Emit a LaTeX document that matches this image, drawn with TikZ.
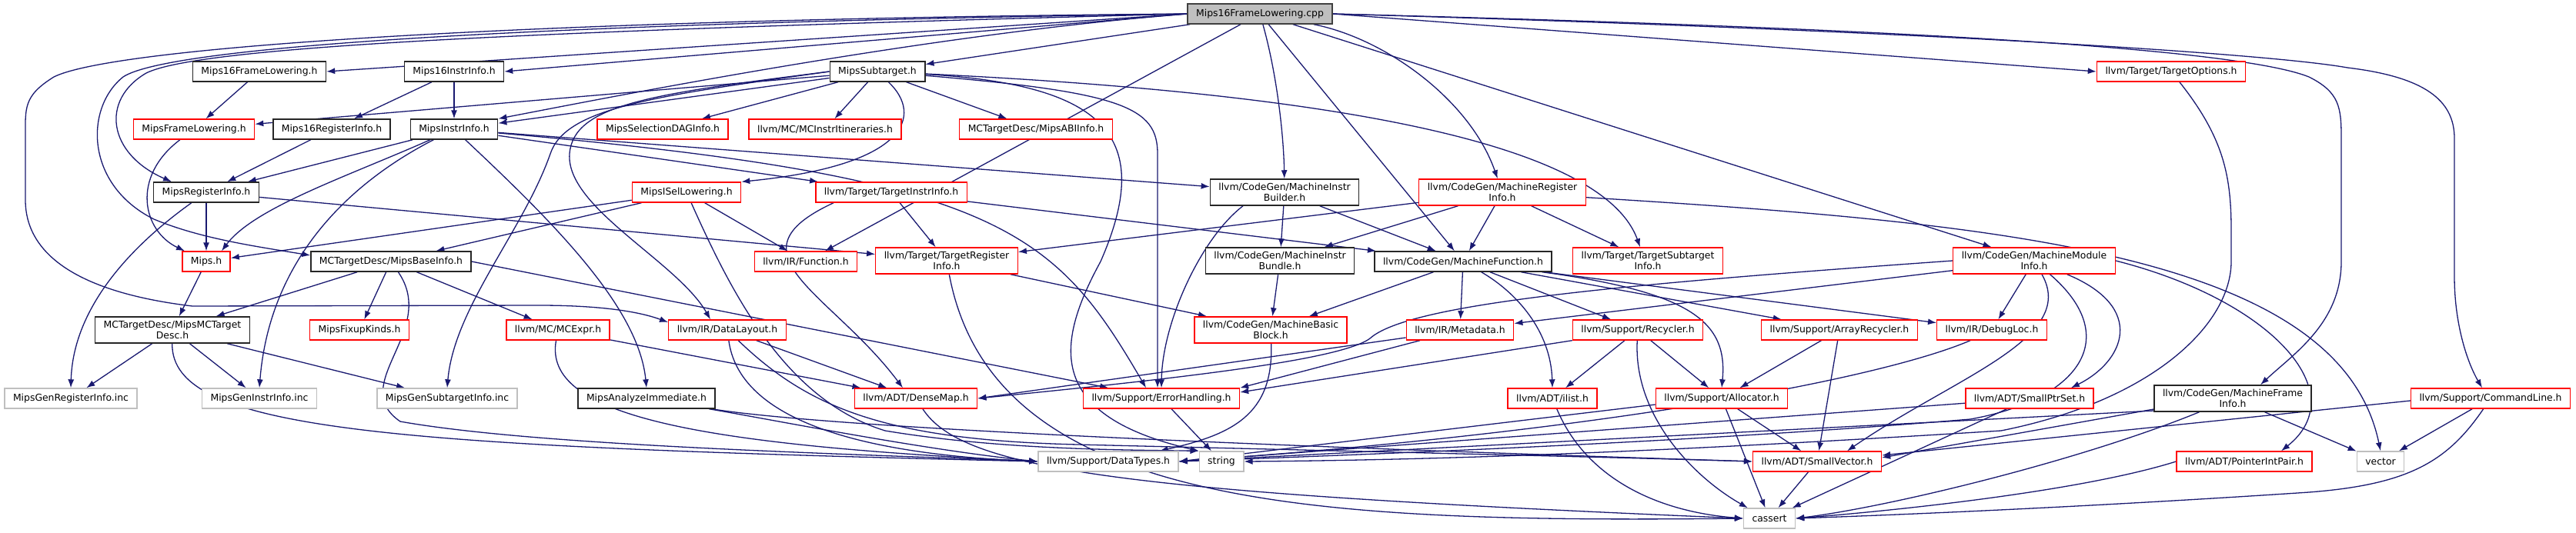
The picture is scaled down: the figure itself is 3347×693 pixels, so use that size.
\documentclass[tikz,border=0pt]{standalone}
\usepackage{fontspec}
\setmainfont{DejaVu Sans}
\usepackage{xcolor}
\usepackage{tikz}
\usetikzlibrary{arrows.meta,backgrounds}
\definecolor{edgeblue}{HTML}{191970}
\newcommand{\graphfont}{\fontsize{12.4bp}{14.5bp}\selectfont}
\tikzset{
  hdr/.style    ={draw=black!85, fill=white, line width=1.4bp, align=center, inner xsep=11bp, inner ysep=5bp, minimum height=26bp, font=\graphfont},
  redhdr/.style ={hdr, draw=red},
  sys/.style    ={hdr, draw=gray!50},
  root/.style   ={hdr, fill=gray!50, draw=black!75},
  arr/.style    ={-{Latex[length=11bp,width=8bp]}, draw=edgeblue, line width=1.3bp},
}

\begin{document}
\begin{tikzpicture}[x=1bp, y=-1bp]
  \useasboundingbox (0,0) rectangle (3347,693);

  % top row
  \node[root]   (cpp)    at (1637,18)  {Mips16FrameLowering.cpp};
  \node[hdr]    (m16fl)  at (337,93)   {Mips16FrameLowering.h};
  \node[hdr]    (m16ii)  at (590,93)   {Mips16InstrInfo.h};
  \node[hdr]    (msub)   at (1140,93)  {MipsSubtarget.h};
  \node[redhdr] (topt)   at (2821,93)  {llvm/Target/TargetOptions.h};
  % second row
  \node[redhdr] (mfl)    at (252,168)  {MipsFrameLowering.h};
  \node[hdr]    (m16ri)  at (431,168)  {Mips16RegisterInfo.h};
  \node[hdr]    (mii)    at (590,168)  {MipsInstrInfo.h};
  \node[redhdr] (mdag)   at (861,168)  {MipsSelectionDAGInfo.h};
  \node[redhdr] (itin)   at (1072,168) {llvm/MC/MCInstrItineraries.h};
  \node[redhdr] (abi)    at (1346,168) {MCTargetDesc/MipsABIInfo.h};
  % third row
  \node[hdr]    (mri)    at (268,250)  {MipsRegisterInfo.h};
  \node[redhdr] (isel)   at (892,250)  {MipsISelLowering.h};
  \node[redhdr] (tii)    at (1158,250) {llvm/Target/TargetInstrInfo.h};
  \node[hdr]    (mib)    at (1669,250) {llvm/CodeGen/MachineInstr\\Builder.h};
  \node[redhdr] (mregi)  at (1952,250) {llvm/CodeGen/MachineRegister\\Info.h};
  % fourth row
  \node[redhdr] (mipsh)  at (268,340)  {Mips.h};
  \node[hdr]    (base)   at (508,340)  {MCTargetDesc/MipsBaseInfo.h};
  \node[redhdr] (func)   at (1047,340) {llvm/IR/Function.h};
  \node[redhdr] (tri)    at (1230,339) {llvm/Target/TargetRegister\\Info.h};
  \node[hdr]    (mibun)  at (1663,339) {llvm/CodeGen/MachineInstr\\Bundle.h};
  \node[hdr]    (mfunc)  at (1901,340) {llvm/CodeGen/MachineFunction.h};
  \node[redhdr] (tsi)    at (2141,339) {llvm/Target/TargetSubtarget\\Info.h};
  \node[redhdr] (mmi)    at (2643,339) {llvm/CodeGen/MachineModule\\Info.h};
  % fifth row
  \node[hdr]    (mcdesc) at (224,429)  {MCTargetDesc/MipsMCTarget\\Desc.h};
  \node[redhdr] (fixup)  at (467,429)  {MipsFixupKinds.h};
  \node[redhdr] (mcexpr) at (725,429)  {llvm/MC/MCExpr.h};
  \node[redhdr] (dl)     at (945,429)  {llvm/IR/DataLayout.h};
  \node[redhdr] (mbb)    at (1651,429) {llvm/CodeGen/MachineBasic\\Block.h};
  \node[redhdr] (meta)   at (1897,429) {llvm/IR/Metadata.h};
  \node[redhdr] (recyc)  at (2128,429) {llvm/Support/Recycler.h};
  \node[redhdr] (arec)   at (2390,429) {llvm/Support/ArrayRecycler.h};
  \node[redhdr] (dloc)   at (2588,429) {llvm/IR/DebugLoc.h};
  % sixth row
  \node[sys]    (genreg) at (92,518)   {MipsGenRegisterInfo.inc};
  \node[sys]    (genins) at (337,518)  {MipsGenInstrInfo.inc};
  \node[sys]    (gensub) at (581,518)  {MipsGenSubtargetInfo.inc};
  \node[hdr]    (aimm)   at (840,518)  {MipsAnalyzeImmediate.h};
  \node[redhdr] (dmap)   at (1190,518) {llvm/ADT/DenseMap.h};
  \node[redhdr] (errh)   at (1509,518) {llvm/Support/ErrorHandling.h};
  \node[redhdr] (ilist)  at (2017,518) {llvm/ADT/ilist.h};
  \node[redhdr] (alloc)  at (2237,518) {llvm/Support/Allocator.h};
  \node[redhdr] (sps)    at (2637,518) {llvm/ADT/SmallPtrSet.h};
  \node[hdr]    (mfi)    at (2901,518) {llvm/CodeGen/MachineFrame\\Info.h};
  \node[redhdr] (cl)     at (3236,518) {llvm/Support/CommandLine.h};
  % bottom rows
  \node[sys]    (dtypes) at (1440,600) {llvm/Support/DataTypes.h};
  \node[sys]    (str)    at (1587,600) {string};
  \node[redhdr] (svec)   at (2361,600) {llvm/ADT/SmallVector.h};
  \node[redhdr] (pip)    at (2916,600) {llvm/ADT/PointerIntPair.h};
  \node[sys]    (vec)    at (3093,600) {vector};
  \node[sys]    (cass)   at (2299,674) {cassert};

  \begin{scope}[on background layer]
  % includes of the .cpp file
  \draw[arr] (cpp.west) -- (m16fl.east);
  \draw[arr] (cpp.west) -- (m16ii.east);
  \draw[arr] (cpp.west) .. controls (1200,45) and (800,125) .. (mii.north east);
  \draw[arr] (cpp) -- (msub);
  \draw[arr] (cpp.west) .. controls (700,40) and (260,60) .. (190,95)
       .. controls (130,130) and (140,200) .. ([xshift=-45bp]mri.north);
  \draw[arr] (cpp.west) .. controls (700,30) and (220,60) .. (160,100)
       .. controls (110,140) and (110,240) .. (200,285)
       .. controls (260,310) and (330,320) .. ([yshift=8bp]base.west);
  \draw[arr] (cpp.west) .. controls (700,25) and (150,60) .. (70,100)
       .. controls (30,125) and (33,140) .. (33,180) -- (33,260)
       .. controls (33,330) and (100,380) .. (250,398) -- (700,397)
       .. controls (780,397) and (830,405) .. ([yshift=10bp]dl.west);
  \draw[arr] (cpp) -- (func);
  \draw[arr] (cpp) .. controls (1660,100) and (1668,180) .. (mib);
  \draw[arr] (cpp) -- (mfunc);
  \draw[arr] (cpp) .. controls (1800,50) and (1910,130) .. (mregi);
  \draw[arr] (cpp) -- (mmi);
  \draw[arr] (cpp.east) -- (topt.west);
  \draw[arr] (cpp.east) .. controls (2400,35) and (2900,60) .. (3000,100)
       .. controls (3040,120) and (3042,140) .. (3042,180) -- (3042,340)
       .. controls (3042,420) and (2980,460) .. ([xshift=36bp]mfi.north);
  \draw[arr] (cpp.east) .. controls (2500,40) and (2950,70) .. (3050,88)
       .. controls (3150,100) and (3189,130) .. (3189,180) -- (3189,360)
       .. controls (3189,420) and (3205,470) .. ([xshift=-11bp]cl.north);

  % Mips target headers
  \draw[arr] (m16fl) -- (mfl);
  \draw[arr] (m16ii) -- (m16ri);
  \draw[arr] (m16ii) -- (mii);
  \draw[arr] (m16ri) -- (mri);
  \draw[arr] (mfl) .. controls (170,230) and (185,300) .. ([xshift=-28bp]mipsh.north);
  \draw[arr] (msub) -- (mfl);
  \draw[arr] (msub) -- (mii);
  \draw[arr] (msub) -- (mdag);
  \draw[arr] (msub) -- (itin);
  \draw[arr] (msub) -- (abi);
  \draw[arr] (msub) .. controls (1200,150) and (1180,215) .. (isel.north east);
  \draw[arr] (msub.west) .. controls (850,122) and (745,135) .. (740,200)
       .. controls (735,270) and (880,340) .. ([xshift=-22bp]dl.north);
  \draw[arr] (msub.west) .. controls (850,125) and (735,140) .. (715,200)
       .. controls (680,300) and (590,400) .. (gensub.north);
  \draw[arr] (msub) .. controls (1700,120) and (2080,180) .. ([xshift=-10bp]tsi.north);
  \draw[arr] (msub) .. controls (1460,120) and (1504,140) .. (1504,200) -- ([xshift=-5bp]errh.north);
  \draw[arr] (msub) .. controls (1440,110) and (1500,180) .. (1430,340)
       .. controls (1370,450) and (1360,540) .. (str.north west);
  \draw[arr] (mii) -- (mri);
  \draw[arr] (mii) .. controls (450,230) and (330,270) .. ([xshift=20bp]mipsh.north);
  \draw[arr] (mii) .. controls (450,240) and (350,340) .. (genins.north);
  \draw[arr] (mii) .. controls (720,290) and (830,400) .. (aimm.north);
  \draw[arr] (mii) -- (tii);
  \draw[arr] (mii) -- (mib);
  \draw[arr] (mii) .. controls (1300,230) and (1370,300) .. ([xshift=-20bp]errh.north);
  \draw[arr] (mri) -- (mipsh);
  \draw[arr] (mri) .. controls (170,320) and (95,400) .. (genreg.north);
  \draw[arr] (mri) -- (tri);
  \draw[arr] (mipsh) -- (mcdesc);
  \draw[arr] (isel) -- (mipsh);
  \draw[arr] (isel) -- (base);
  \draw[arr] (isel) -- (func);
  \draw[arr] (isel) .. controls (950,380) and (1020,520) .. (1150,560)
       .. controls (1300,585) and (1460,585) .. (str.north west);
  \draw[arr] (base) -- (mcdesc);
  \draw[arr] (base) -- (fixup);
  \draw[arr] (base) -- (mcexpr);
  \draw[arr] (base) .. controls (570,430) and (450,500) .. (520,548)
       .. controls (700,580) and (1100,590) .. (dtypes.west);
  \draw[arr] (base.east) -- (errh);
  \draw[arr] (mcdesc) -- (genreg);
  \draw[arr] (mcdesc) -- (genins);
  \draw[arr] (mcdesc) -- (gensub);
  \draw[arr] (mcdesc) .. controls (222,560) and (500,580) .. (dtypes.west);
  \draw[arr] (aimm) .. controls (1000,545) and (1200,585) .. (dtypes.west);
  \draw[arr] (aimm) .. controls (1100,560) and (1800,585) .. (svec.west);

  % llvm headers
  \draw[arr] (mcexpr) -- (dmap);
  \draw[arr] (mcexpr) .. controls (705,540) and (900,578) .. (dtypes.west);
  \draw[arr] (dl) -- (dmap);
  \draw[arr] (dl) .. controls (960,540) and (1100,590) .. (dtypes.west);
  \draw[arr] (dl) .. controls (1050,530) and (1150,572) .. (1400,578)
       .. controls (1900,590) and (2150,596) .. (svec.west);
  \draw[arr] (tii) -- (tri);
  \draw[arr] (tii) -- (mfunc);
  \draw[arr] ([xshift=24bp]tii.south west) .. controls (940,330) and (1080,380) .. ([xshift=-17bp]dmap.north);
  \draw[arr] (tri) -- (mbb);
  \draw[arr] (tri) .. controls (1290,660) and (1700,680) .. (cass.west);
  \draw[arr] (dmap) .. controls (1250,610) and (1450,640) .. (cass.west);
  \draw[arr] (mib) -- (mibun);
  \draw[arr] (mib) -- (mfunc);
  \draw[arr] ([xshift=-54bp]mib.south) .. controls (1560,310) and (1510,420) .. (errh.north);
  \draw[arr] (mregi) -- (tri);
  \draw[arr] (mregi) -- (mibun);
  \draw[arr] (mregi) -- (mfunc);
  \draw[arr] (mregi) -- (tsi);
  \draw[arr] (mregi) .. controls (2600,290) and (3040,330) .. (vec.north);
  \draw[arr] (mibun) -- (mbb);
  \draw[arr] (mfunc) -- (mbb);
  \draw[arr] (mfunc) -- (meta);
  \draw[arr] (mfunc) .. controls (1970,380) and (2015,430) .. (ilist.north);
  \draw[arr] (mfunc) -- (recyc);
  \draw[arr] (mfunc) -- (arec);
  \draw[arr] (mfunc) -- (dloc);
  \draw[arr] (mfunc) .. controls (2200,380) and (2245,420) .. (alloc.north);
  \draw[arr] (mbb) .. controls (1655,540) and (1600,565) .. ([xshift=-25bp]dtypes.north east);
  \draw[arr] (meta) -- (dmap.east);
  \draw[arr] (meta) -- (errh.north east);
  \draw[arr] (mmi.west) .. controls (2100,370) and (1830,395) .. (1780,440)
       .. controls (1740,470) and (1500,495) .. (dmap.east);
  \draw[arr] (mmi) -- (meta);
  \draw[arr] (mmi) -- (dloc);
  \draw[arr] (mmi) .. controls (2700,440) and (2540,490) .. ([xshift=39bp]svec.north);
  \draw[arr] (mmi) .. controls (2760,440) and (2700,520) .. (2560,545)
       .. controls (2200,575) and (1800,590) .. (dtypes.east);
  \draw[arr] (mmi) .. controls (2790,400) and (2760,470) .. ([xshift=-30bp]sps.north east);
  \draw[arr] (mmi.east) .. controls (2950,390) and (3060,510) .. ([xshift=48bp]pip.north);
  \draw[arr] (recyc) -- (ilist);
  \draw[arr] (recyc) -- (alloc);
  \draw[arr] (recyc) .. controls (2122,540) and (2200,620) .. ([xshift=6bp]cass.north west);
  \draw[arr] (recyc.south west) -- ([yshift=8bp]errh.east);
  \draw[arr] (arec) -- (alloc);
  \draw[arr] (arec) -- (svec);
  \draw[arr] ([xshift=-28bp]dloc.south) .. controls (2450,490) and (2100,560) .. (dtypes.east);
  \draw[arr] (errh) -- (str);
  \draw[arr] (ilist) .. controls (2060,620) and (2150,665) .. (cass.west);
  \draw[arr] (alloc) -- (svec);
  \draw[arr] (alloc) -- (cass);
  \draw[arr] ([yshift=-8bp]alloc.west) -- (dtypes.east);
  \draw[arr] (sps) -- (cass);
  \draw[arr] (sps) -- (dtypes.east);
  \draw[arr] (svec) -- (cass);
  \draw[arr] (mfi) -- (vec);
  \draw[arr] ([yshift=-14bp]mfi.west) -- ([yshift=5bp]svec.east);
  \draw[arr] ([yshift=-16bp]mfi.west) -- (dtypes.east);
  \draw[arr] (mfi) .. controls (2700,600) and (2450,660) .. (cass.east);
  \draw[arr] (cl) -- (vec);
  \draw[arr] ([yshift=-3bp]cl.west) -- ([yshift=8bp]svec.east);
  \draw[arr] (cl) .. controls (3180,600) and (3130,630) .. (3000,640)
       .. controls (2700,660) and (2450,670) .. (cass.east);
  \draw[arr] (pip.west) .. controls (2700,640) and (2450,665) .. (cass.east);
  \draw[arr] (topt) .. controls (2890,180) and (2899,230) .. (2899,300) -- (2899,340)
       .. controls (2899,420) and (2800,520) .. (2600,560)
       .. controls (2200,585) and (1900,598) .. (str.east);
  \end{scope}
\end{tikzpicture}
\end{document}
